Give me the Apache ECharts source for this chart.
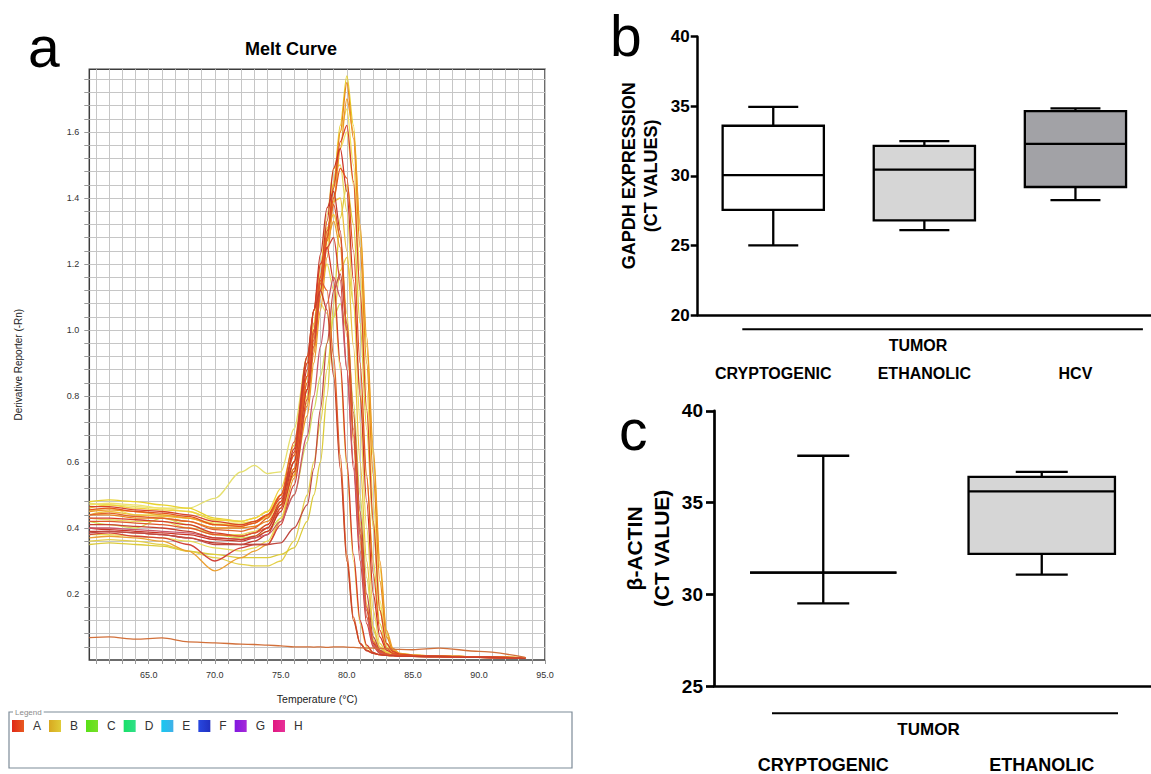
<!DOCTYPE html>
<html><head><meta charset="utf-8">
<script src="https://cdn.jsdelivr.net/npm/echarts@6/dist/echarts.min.js"></script>
<style>html,body{margin:0;padding:0;background:#fff}#c{width:1151px;height:774px}</style>
</head><body><div id="c"></div>
<script>
// ---------- Panel a: melt curve data ----------
const meltTemps = [60.5,62,64,66,68,70,72,73,74,75,76,77,77.5,78,78.5,79,79.5,80,80.5,81,81.5,82,82.5,83,83.5,84,85,87,90,93.5];
const c01 = [0.48,0.485,0.48,0.47,0.46,0.43,0.42,0.43,0.45, 0.5,0.58,0.8,0.96,1.13,1.29,1.45,1.62,1.77, 1.62,1.3,0.95,0.62,0.28,0.08,0.03,0.02, 0.015,0.012,0.01,0.007];
const c02 = [0.44,0.44,0.43,0.43,0.42,0.40,0.40,0.405,0.42, 0.47,0.56,0.77,0.93,1.1,1.27,1.44,1.6,1.75, 1.58,1.25,0.9,0.56,0.24,0.07,0.028,0.018, 0.014,0.012,0.01,0.006];
const c03 = [0.45,0.46,0.44,0.44,0.43,0.415,0.415,0.42,0.43, 0.48,0.57,0.78,0.94,1.1,1.27,1.44,1.6,1.67, 1.5,1.18,0.82,0.48,0.18,0.05,0.025,0.018, 0.014,0.012,0.01,0.006];
const c04 = [0.465,0.465,0.455,0.45,0.44,0.42,0.41,0.42,0.44, 0.49,0.6,0.82,0.97,1.12,1.28,1.43,1.57,1.62, 1.45,1.12,0.76,0.42,0.15,0.05,0.025,0.018, 0.014,0.012,0.01,0.006];
const c05 = [0.40,0.395,0.39,0.385,0.38,0.365,0.36,0.37,0.39, 0.45,0.57,0.82,0.99,1.16,1.33,1.49,1.55,1.42, 1.15,0.8,0.48,0.2,0.07,0.03,0.02,0.016, 0.013,0.011,0.009,0.006];
const c06 = [0.43,0.425,0.42,0.42,0.40,0.38,0.38,0.39,0.41, 0.47,0.6,0.86,1.02,1.19,1.35,1.49,1.5,1.36, 1.08,0.72,0.4,0.15,0.05,0.025,0.018,0.015, 0.013,0.011,0.009,0.006];
const c07 = [0.35,0.355,0.35,0.345,0.33,0.32,0.31,0.31,0.31, 0.32,0.34,0.42,0.5,0.6,0.8,1.08,1.34,1.44, 1.32,1.02,0.7,0.4,0.15,0.05,0.025,0.018, 0.014,0.012,0.01,0.006];
const c08 = [0.39,0.39,0.385,0.38,0.37,0.355,0.35,0.36,0.38, 0.46,0.6,0.88,1.06,1.23,1.37,1.42,1.3,1.0, 0.68,0.38,0.15,0.05,0.025,0.018,0.015,0.013, 0.012,0.01,0.008,0.006];
const c09 = [0.37,0.375,0.37,0.36,0.33,0.27,0.31,0.33,0.35, 0.42,0.55,0.82,0.98,1.14,1.27,1.33,1.25,0.98, 0.66,0.36,0.13,0.045,0.022,0.016,0.014,0.012, 0.011,0.01,0.008,0.005];
const c10 = [0.38,0.385,0.375,0.37,0.35,0.30,0.34,0.35,0.35, 0.41,0.53,0.79,0.95,1.12,1.25,1.28,1.15,0.88, 0.58,0.3,0.11,0.04,0.02,0.015,0.013,0.012, 0.011,0.01,0.008,0.005];
const c11 = [0.385,0.39,0.385,0.38,0.37,0.35,0.35,0.35,0.35, 0.355,0.4,0.47,0.58,0.76,0.96,1.12,1.17,1.02, 0.75,0.45,0.2,0.07,0.03,0.018,0.015,0.013, 0.012,0.011,0.009,0.006];
const c12 = [0.40,0.40,0.395,0.39,0.385,0.37,0.365,0.37,0.38, 0.42,0.5,0.68,0.8,0.95,1.08,1.16,1.1,0.88, 0.6,0.33,0.13,0.045,0.022,0.016,0.014,0.012, 0.011,0.01,0.008,0.005];
const c13 = [0.44,0.445,0.435,0.43,0.42,0.395,0.39,0.40,0.43, 0.5,0.66,0.92,1.06,1.15,1.12,0.92,0.62,0.32, 0.13,0.05,0.03,0.02,0.016,0.014,0.013,0.012, 0.011,0.01,0.008,0.005];
const c14 = [0.475,0.47,0.465,0.46,0.46,0.49,0.57,0.59,0.565, 0.57,0.7,0.92,1.02,1.08,1.05,0.88,0.6,0.3, 0.12,0.05,0.03,0.02,0.016,0.014,0.013,0.012, 0.011,0.01,0.008,0.005];
const c15 = [0.42,0.41,0.40,0.43,0.41,0.38,0.37,0.375,0.39, 0.43,0.5,0.66,0.76,0.86,0.96,1.04,1.08,1.0, 0.78,0.5,0.25,0.09,0.035,0.02,0.016,0.014, 0.012,0.011,0.009,0.006];
const c16 = [0.455,0.46,0.45,0.445,0.435,0.41,0.405,0.415,0.44, 0.5,0.62,0.86,1.0,1.14,1.28,1.4,1.49,1.46, 1.24,0.9,0.56,0.26,0.09,0.035,0.02,0.016, 0.013,0.011,0.009,0.006];
const c17 = [0.46,0.47,0.46,0.455,0.45,0.425,0.42,0.43,0.45, 0.52,0.65,0.9,1.06,1.2,1.31,1.35,1.28,1.05, 0.74,0.42,0.17,0.06,0.028,0.018,0.015,0.013, 0.012,0.011,0.009,0.006];
const c18 = [0.43,0.43,0.425,0.42,0.41,0.385,0.375,0.385,0.41, 0.48,0.63,0.9,1.06,1.2,1.25,1.15,0.9,0.6, 0.32,0.12,0.045,0.022,0.016,0.014,0.013,0.012, 0.011,0.01,0.008,0.005];
const c19 = [0.36,0.365,0.36,0.35,0.33,0.31,0.29,0.285,0.285, 0.3,0.36,0.5,0.6,0.72,0.88,1.04,1.18,1.22, 1.08,0.82,0.55,0.3,0.11,0.04,0.022,0.016, 0.013,0.011,0.009,0.006];
const c20 = [0.45,0.455,0.45,0.44,0.43,0.41,0.405,0.415,0.435, 0.48,0.56,0.74,0.9,1.06,1.22,1.38,1.55,1.7, 1.6,1.32,0.98,0.64,0.3,0.09,0.035,0.02, 0.015,0.012,0.01,0.007];
const c21 = [0.47,0.475,0.47,0.46,0.45,0.425,0.42,0.43,0.45, 0.5,0.6,0.8,0.95,1.1,1.25,1.4,1.55,1.6, 1.44,1.1,0.75,0.42,0.16,0.05,0.025,0.018, 0.014,0.012,0.01,0.006];
const c22 = [0.42,0.42,0.415,0.41,0.40,0.38,0.375,0.385,0.40, 0.46,0.58,0.84,1.0,1.16,1.3,1.38,1.28,1.0, 0.7,0.4,0.16,0.055,0.025,0.018,0.015,0.013, 0.012,0.01,0.008,0.006];
const c23 = [0.38,0.38,0.375,0.37,0.36,0.34,0.33,0.34,0.36, 0.43,0.57,0.84,0.99,1.13,1.2,1.12,0.88,0.58, 0.3,0.11,0.04,0.022,0.016,0.014,0.013,0.012, 0.011,0.01,0.008,0.005];
const c24 = [0.41,0.41,0.405,0.40,0.39,0.37,0.365,0.375,0.40, 0.47,0.64,0.92,1.06,1.12,1.06,0.86,0.58,0.3, 0.12,0.05,0.028,0.02,0.016,0.014,0.013,0.012, 0.011,0.01,0.008,0.005];
const c25 = [0.44,0.45,0.44,0.435,0.43,0.41,0.41,0.42,0.44, 0.5,0.62,0.86,1.02,1.17,1.3,1.39,1.4,1.24, 0.95,0.6,0.3,0.1,0.04,0.022,0.016,0.014, 0.012,0.011,0.009,0.006];
const cBase = [0.068,0.07,0.063,0.067,0.055,0.052,0.048,0.047,0.045, 0.043,0.04,0.04,0.039,0.04,0.038,0.04,0.04,0.039, 0.038,0.037,0.036,0.036,0.035,0.034,0.033,0.032, 0.031,0.036,0.026,0.008];

const xTickLabels = [65,70,75,80,85,90,95];
const yTickLabels = [0.2,0.4,0.6,0.8,1.0,1.2,1.4,1.6];
const xGridTicks = [61,62,63,64,65,66,67,68,69,70,71,72,73,74,75,76,77,78,79,80,81,82,83,84,85,86,87,88,89,90,91,92,93,94,95];
const yGridTicks = [0.04,0.08,0.12,0.16,0.2,0.24,0.28,0.32,0.36,0.4,0.44,0.48,0.52,0.56,0.6,0.64,0.68,0.72,0.76,0.8,0.84,0.88,0.92,0.96,1.0,1.04,1.08,1.12,1.16,1.2,1.24,1.28,1.32,1.36,1.4,1.44,1.48,1.52,1.56,1.6,1.64,1.68,1.72,1.76];
const legendNames = ['A','B','C','D','E','F','G','H'];

// ---------- Panel b ----------
const bCategories = ['CRYPTOGENIC','ETHANOLIC','HCV'];
const bMin = [25.0, 26.1, 28.25];
const bQ1 = [27.55, 26.8, 29.2];
const bMedian = [30.05, 30.45, 32.3];
const bQ3 = [33.6, 32.15, 34.65];
const bMax = [34.95, 32.5, 34.85];

// ---------- Panel c ----------
const cCategories = ['CRYPTOGENIC','ETHANOLIC'];
const cMin = [29.5, 31.07];
const cQ1 = [31.18, 32.2];
const cMedian = [31.18, 35.61];
const cQ3 = [31.18, 36.4];
const cMax = [37.55, 36.67];

// ---------- styling ----------
const curveDefs = [
  [c19,'#e4d04a','B'],[c07,'#dccb3a','B'],[c14,'#e6e06e','B'],[c15,'#d2dc5a','B'],
  [c01,'#e8d22e','B'],[c03,'#f0e25a','B'],[c21,'#f2e46a','B'],[c06,'#e9d75e','B'],
  [c17,'#f0d23e','B'],[c23,'#e8dc58','B'],[c25,'#eec040','B'],[c09,'#eba032','B'],
  [c02,'#e8861c','A'],[c20,'#ec9a28','A'],[c04,'#d8452a','A'],[c05,'#cc3426','A'],
  [c08,'#c43a2c','A'],[c10,'#d24238','A'],[c11,'#c04a42','A'],[c12,'#c9586a','A'],
  [c13,'#e3622a','A'],[c16,'#e4541e','A'],[c18,'#d63c2a','A'],[c22,'#e0582a','A'],
  [c24,'#c8402e','A'],[cBase,'#d2703a','A']
];
const legendGrad = [
  ['#e02818','#e85a20'],['#d8a820','#e0cc38'],['#58e018','#78e028'],['#18e068','#30e088'],
  ['#18c8f0','#40b0e8'],['#2848e0','#2030c0'],['#8018e0','#a828d8'],['#e01880','#e83098']
];
const SANS = 'Liberation Sans, Arial, sans-serif';

function grad(c){ return {type:'linear',x:0,y:0,x2:1,y2:0,colorStops:[{offset:0,color:c[0]},{offset:1,color:c[1]}]}; }

function makeBoxRender(fills, capHalf, lw, boxFrac){
  return function(params, api){
    const idx = api.value(0);
    const cx = api.coord([idx, 0])[0];
    const half = api.size([1, 0])[0] * boxFrac / 2;
    const yMin = api.coord([idx, api.value(1)])[1];
    const yQ1 = api.coord([idx, api.value(2)])[1];
    const yMed = api.coord([idx, api.value(3)])[1];
    const yQ3 = api.coord([idx, api.value(4)])[1];
    const yMax = api.coord([idx, api.value(5)])[1];
    const st = {stroke:'#000', lineWidth:lw, fill:null};
    return {type:'group', children:[
      {type:'line', shape:{x1:cx,y1:yQ3,x2:cx,y2:yMax}, style:st},
      {type:'line', shape:{x1:cx,y1:yQ1,x2:cx,y2:yMin}, style:st},
      {type:'line', shape:{x1:cx-capHalf,y1:yMax,x2:cx+capHalf,y2:yMax}, style:st},
      {type:'line', shape:{x1:cx-capHalf,y1:yMin,x2:cx+capHalf,y2:yMin}, style:st},
      {type:'rect', shape:{x:cx-half,y:yQ3,width:2*half,height:yQ1-yQ3}, style:{fill:fills[params.dataIndex], stroke:'#000', lineWidth:lw}},
      {type:'line', shape:{x1:cx-half,y1:yMed,x2:cx+half,y2:yMed}, style:st}
    ]};
  };
}

const meltSeries = curveDefs.map(function(d){
  return {
    type:'line', name:d[2], xAxisIndex:0, yAxisIndex:0,
    data: meltTemps.map(function(t,i){ return [t, d[0][i]]; }),
    showSymbol:false, smooth:0.3, smoothMonotone:'x', silent:true,
    lineStyle:{color:d[1], width:1.3}, itemStyle:{color:d[1]}, z:3
  };
});
const emptyLegendSeries = legendNames.slice(2).map(function(n,i){
  return {type:'line', name:n, xAxisIndex:0, yAxisIndex:0, data:[], itemStyle:{color:legendGrad[i+2][0]}};
});

const option = {
  animation:false,
  backgroundColor:'#fff',
  legend:{
    data: legendNames.map(function(n,i){ return {name:n, itemStyle:{color:grad(legendGrad[i])}}; }),
    left:12, top:720, padding:0, icon:'rect', itemWidth:12, itemHeight:12, itemGap:8, selectedMode:false,
    textStyle:{fontSize:12, color:'#333', fontFamily:SANS, width:10, padding:[0,0,0,4]}
  },
  grid:[
    {left:89.3, top:69.3, width:455.7, height:590.7, show:true, borderColor:'#3c3c3c', borderWidth:1.5, backgroundColor:'#fff', containLabel:false},
    {left:697.7, top:36.7, width:464.4, height:278.3, containLabel:false},
    {left:714, top:410.8, width:442, height:276.9, containLabel:false}
  ],
  xAxis:[
    {gridIndex:0, type:'value', min:60.5, max:95,
      axisLine:{show:false},
      axisTick:{show:true, customValues:xGridTicks, length:4, lineStyle:{color:'#9a9a9a'}},
      axisLabel:{customValues:xTickLabels, formatter:function(v){return v.toFixed(1);}, fontSize:9, color:'#333', margin:10, fontFamily:SANS},
      splitLine:{show:true, lineStyle:{color:'#c6c6c6', width:1}},
      name:'Temperature (°C)', nameLocation:'middle', nameGap:33,
      nameTextStyle:{fontSize:10.5, color:'#222', fontFamily:SANS}},
    {gridIndex:1, type:'category', data:bCategories,
      axisLine:{lineStyle:{color:'#000', width:2.5}}, axisTick:{show:false},
      axisLabel:{interval:0, fontSize:16, fontWeight:'bold', color:'#000', margin:50, fontFamily:SANS}},
    {gridIndex:2, type:'category', data:cCategories,
      axisLine:{lineStyle:{color:'#000', width:2.7}}, axisTick:{show:false},
      axisLabel:{interval:0, fontSize:18, fontWeight:'bold', color:'#000', margin:70, fontFamily:SANS}}
  ],
  yAxis:[
    {gridIndex:0, type:'value', min:0, max:1.79,
      axisLine:{show:false},
      axisTick:{show:true, customValues:yGridTicks, length:5, lineStyle:{color:'#9a9a9a'}},
      axisLabel:{customValues:yTickLabels, formatter:function(v){return v.toFixed(1);}, fontSize:9, color:'#333', margin:10, fontFamily:SANS},
      splitLine:{show:true, lineStyle:{color:'#c6c6c6', width:1}},
      name:'Derivative Reporter (-Rn)', nameLocation:'middle', nameGap:66,
      nameTextStyle:{fontSize:10, color:'#222', fontFamily:SANS}},
    {gridIndex:1, type:'value', min:20, max:40, interval:5,
      axisLine:{show:true, lineStyle:{color:'#000', width:2.5}},
      axisTick:{show:true, length:7, lineStyle:{color:'#000', width:2.5}},
      axisLabel:{fontSize:17, fontWeight:'bold', color:'#000', margin:8, fontFamily:SANS},
      splitLine:{show:false},
      name:'GAPDH EXPRESSION\n(CT VALUES)', nameLocation:'middle', nameGap:36,
      nameTextStyle:{fontSize:18, fontWeight:'bold', color:'#000', lineHeight:22, align:'center', fontFamily:SANS}},
    {gridIndex:2, type:'value', min:25, max:40, interval:5,
      axisLine:{show:true, lineStyle:{color:'#000', width:2.7}},
      axisTick:{show:true, length:8, lineStyle:{color:'#000', width:2.7}},
      axisLabel:{fontSize:19, fontWeight:'bold', color:'#000', margin:11, fontFamily:SANS},
      splitLine:{show:false},
      name:'β-ACTIN\n(CT VALUE)', nameLocation:'middle', nameGap:39,
      nameTextStyle:{fontSize:21, fontWeight:'bold', color:'#000', lineHeight:27, align:'center', fontFamily:SANS}}
  ],
  series: meltSeries.concat(emptyLegendSeries).concat([
    {type:'custom', xAxisIndex:1, yAxisIndex:1, silent:true,
      renderItem: makeBoxRender(['#ffffff','#d6d6d6','#a2a2a6'], 25, 2.3, 0.67),
      encode:{x:0, y:[1,2,3,4,5]},
      data: bCategories.map(function(c,i){ return [i, bMin[i], bQ1[i], bMedian[i], bQ3[i], bMax[i]]; })},
    {type:'custom', xAxisIndex:2, yAxisIndex:2, silent:true,
      renderItem: makeBoxRender(['#ffffff','#d6d6d6'], 26, 2.3, 0.67),
      encode:{x:0, y:[1,2,3,4,5]},
      data: cCategories.map(function(c,i){ return [i, cMin[i], cQ1[i], cMedian[i], cQ3[i], cMax[i]]; })}
  ]),
  graphic:[
    {type:'text', x:28, y:47.2, style:{text:'a', font:'57px '+SANS, lineHeight:40, fill:'#000', verticalAlign:'middle'}},
    {type:'text', x:610, y:35.8, style:{text:'b', font:'57px '+SANS, lineHeight:40, fill:'#000', verticalAlign:'middle'}},
    {type:'text', x:619, y:430.2, style:{text:'c', font:'57px '+SANS, lineHeight:40, fill:'#000', verticalAlign:'middle'}},
    {type:'text', x:291, y:48.5, style:{text:'Melt Curve', font:'bold 18px '+SANS, fill:'#000', align:'center', verticalAlign:'middle'}},
    {type:'rect', shape:{x:9, y:712, width:563, height:56}, style:{fill:null, stroke:'#7d8b98', lineWidth:1.2}},
    {type:'text', x:13, y:712, style:{text:'Legend', font:'8px '+SANS, fill:'#8a8a8a', verticalAlign:'middle', backgroundColor:'#fff', padding:[0,2,0,2]}},
    {type:'line', shape:{x1:742.3, y1:329.3, x2:1142.9, y2:329.3}, style:{stroke:'#000', lineWidth:2}},
    {type:'text', x:918, y:345, style:{text:'TUMOR', font:'bold 16px '+SANS, fill:'#000', align:'center', verticalAlign:'middle'}},
    {type:'line', shape:{x1:772, y1:713.3, x2:1118, y2:713.3}, style:{stroke:'#000', lineWidth:2}},
    {type:'text', x:928.5, y:729, style:{text:'TUMOR', font:'bold 17px '+SANS, fill:'#000', align:'center', verticalAlign:'middle'}}
  ]
};

const chart = echarts.init(document.getElementById('c'), null, {renderer:'svg'});
chart.setOption(option);
</script>
</body></html>
